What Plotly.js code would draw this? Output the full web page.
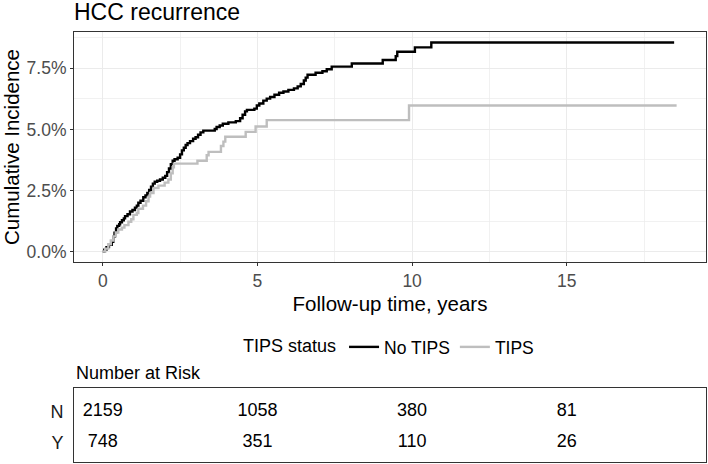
<!DOCTYPE html>
<html>
<head>
<meta charset="utf-8">
<script src="https://cdn.plot.ly/plotly-3.0.1.min.js"></script>
<style>html,body{margin:0;padding:0;background:#fff;}#chart{width:708px;height:464px;}</style>
</head>
<body>
<div id="chart"></div>
<script>
// Cumulative incidence (%) step curves
const noTipsTime = [0,0.05,0.12,0.2,0.29,0.34,0.38,0.43,0.47,0.53,0.56,0.62,0.68,0.72,0.8,0.88,0.96,1.04,1.1,1.15,1.22,1.31,1.38,1.44,1.5,1.56,1.62,1.68,1.76,1.85,1.94,2.02,2.08,2.14,2.2,2.26,2.32,2.42,2.5,2.56,2.62,2.68,2.74,2.82,2.92,3.0,3.08,3.16,3.25,3.62,3.68,3.78,3.88,4.06,4.3,4.44,4.52,4.6,4.66,4.9,4.98,5.06,5.19,5.3,5.41,5.55,5.7,5.84,6.0,6.18,6.3,6.4,6.5,6.56,6.62,6.88,7.1,7.24,7.4,8.05,9.05,9.47,9.52,10.09,10.62,18.47];
const noTipsInc = [0,0.08,0.18,0.28,0.4,0.6,0.77,0.95,1.05,1.12,1.2,1.28,1.36,1.45,1.53,1.64,1.7,1.8,1.88,2.0,2.08,2.22,2.3,2.4,2.52,2.65,2.78,2.86,2.9,2.95,3.02,3.1,3.25,3.4,3.58,3.72,3.78,3.84,3.98,4.14,4.25,4.36,4.44,4.52,4.62,4.68,4.78,4.88,4.95,5.02,5.1,5.16,5.23,5.29,5.34,5.46,5.6,5.74,5.8,5.85,5.98,6.06,6.18,6.26,6.33,6.42,6.5,6.55,6.62,6.68,6.76,6.86,7.0,7.12,7.24,7.32,7.38,7.46,7.57,7.7,7.84,8.0,8.18,8.36,8.56,8.56];
const tipsTime = [0,0.08,0.18,0.26,0.34,0.42,0.5,0.62,0.7,0.83,0.92,0.99,1.1,1.15,1.3,1.4,1.48,1.53,1.64,1.8,2.0,2.12,2.2,2.26,2.3,3.06,3.36,3.42,3.82,3.9,3.96,4.62,4.94,5.3,9.9,18.55];
const tipsInc = [0,0.12,0.3,0.45,0.62,0.78,0.9,0.98,1.08,1.22,1.32,1.5,1.58,1.75,1.88,2.06,2.25,2.4,2.6,2.7,2.82,2.95,3.2,3.45,3.6,3.72,3.94,4.08,4.32,4.5,4.7,4.9,5.12,5.38,5.98,5.98];

// Number at risk table
const riskTimes = [0,5,10,15];
const riskNoTips = ["2159","1058","380","81"];
const riskTips = ["748","351","110","26"];
const groupNames = ["No TIPS","TIPS"];
const rowLabels = ["N","Y"];

const FONT = "Liberation Sans, Arial, sans-serif";

const traces = [
  {x: noTipsTime, y: noTipsInc, type: 'scatter', mode: 'lines', line: {shape: 'hv', color: '#000000', width: 2.4}, name: groupNames[0], xaxis: 'x', yaxis: 'y'},
  {x: tipsTime, y: tipsInc, type: 'scatter', mode: 'lines', line: {shape: 'hv', color: '#bebebe', width: 2.4}, name: groupNames[1], xaxis: 'x', yaxis: 'y'},
  {x: riskTimes, y: riskTimes.map(() => 1), text: riskNoTips, type: 'scatter', mode: 'text', textposition: 'middle center', textfont: {family: FONT, size: 18, color: '#000'}, showlegend: false, hoverinfo: 'skip', xaxis: 'x2', yaxis: 'y2'},
  {x: riskTimes, y: riskTimes.map(() => 0), text: riskTips, type: 'scatter', mode: 'text', textposition: 'middle center', textfont: {family: FONT, size: 18, color: '#000'}, showlegend: false, hoverinfo: 'skip', xaxis: 'x2', yaxis: 'y2'}
];

const xr = [-0.93, 19.5];
const layout = {
  width: 708, height: 464,
  margin: {l: 74, r: 2, t: 32, b: 2},
  paper_bgcolor: '#fff', plot_bgcolor: '#fff',
  font: {family: FONT, color: '#000'},
  title: {text: 'HCC recurrence', font: {family: FONT, size: 23, color: '#000'}, x: 74/708, xanchor: 'left', xref: 'container', y: 1 - 12/464, yref: 'container', yanchor: 'middle'},
  xaxis: {domain: [0, 1], range: xr, tickvals: [0,5,10,15], ticktext: ['0','5','10','15'], anchor: 'y',
    showgrid: true, gridcolor: '#ebebeb', gridwidth: 1.2, zeroline: false,
    minor: {tickvals: [2.5,7.5,12.5,17.5], showgrid: true, gridcolor: '#ebebeb', gridwidth: 0.7, ticks: ''},
    showline: true, mirror: true, linecolor: '#333333', linewidth: 1,
    ticks: 'outside', ticklen: 3, tickcolor: '#333333', tickwidth: 1,
    tickfont: {family: FONT, size: 17.5, color: '#4d4d4d'},
    title: {text: 'Follow-up time, years', font: {family: FONT, size: 20.5, color: '#000'}, standoff: 6}},
  yaxis: {domain: [0.4651, 1], range: [-0.428, 8.988], tickvals: [0,2.5,5,7.5], ticktext: ['0.0%','2.5%','5.0%','7.5%'], anchor: 'x',
    showgrid: true, gridcolor: '#ebebeb', gridwidth: 1.2, zeroline: false,
    minor: {tickvals: [1.25,3.75,6.25,8.75], showgrid: true, gridcolor: '#ebebeb', gridwidth: 0.7, ticks: ''},
    showline: true, mirror: true, linecolor: '#333333', linewidth: 1,
    ticks: 'outside', ticklen: 3, tickcolor: '#333333', tickwidth: 1,
    tickfont: {family: FONT, size: 17.5, color: '#4d4d4d'},
    title: {text: 'Cumulative Incidence', font: {family: FONT, size: 20.5, color: '#000'}, standoff: 6}},
  xaxis2: {domain: [0, 1], range: xr, anchor: 'y2', showgrid: false, zeroline: false, showticklabels: false, ticks: '',
    showline: true, mirror: true, linecolor: '#333333', linewidth: 1},
  yaxis2: {domain: [0, 0.1721], range: [-0.613, 1.774], anchor: 'x2', tickvals: [1, 0], ticktext: rowLabels,
    showgrid: false, zeroline: false, ticks: '', ticklabelstandoff: 6,
    showline: true, mirror: true, linecolor: '#333333', linewidth: 1,
    tickfont: {family: FONT, size: 18, color: '#1a1a1a'}},
  showlegend: true,
  legend: {orientation: 'h', x: 0.5, xanchor: 'center', y: 0.2674, yanchor: 'middle', xref: 'paper', yref: 'paper',
    title: {text: 'TIPS status', side: 'left', font: {family: FONT, size: 18, color: '#000'}},
    font: {family: FONT, size: 17.5, color: '#000'}, bgcolor: 'rgba(0,0,0,0)', traceorder: 'normal'},
  annotations: [
    {text: 'Number at Risk', xref: 'paper', yref: 'paper', x: 0, xanchor: 'left', y: 0.207, yanchor: 'middle', showarrow: false,
     font: {family: FONT, size: 18, color: '#000'}}
  ]
};

Plotly.newPlot('chart', traces, layout, {displayModeBar: false, staticPlot: true});
</script>
</body>
</html>
